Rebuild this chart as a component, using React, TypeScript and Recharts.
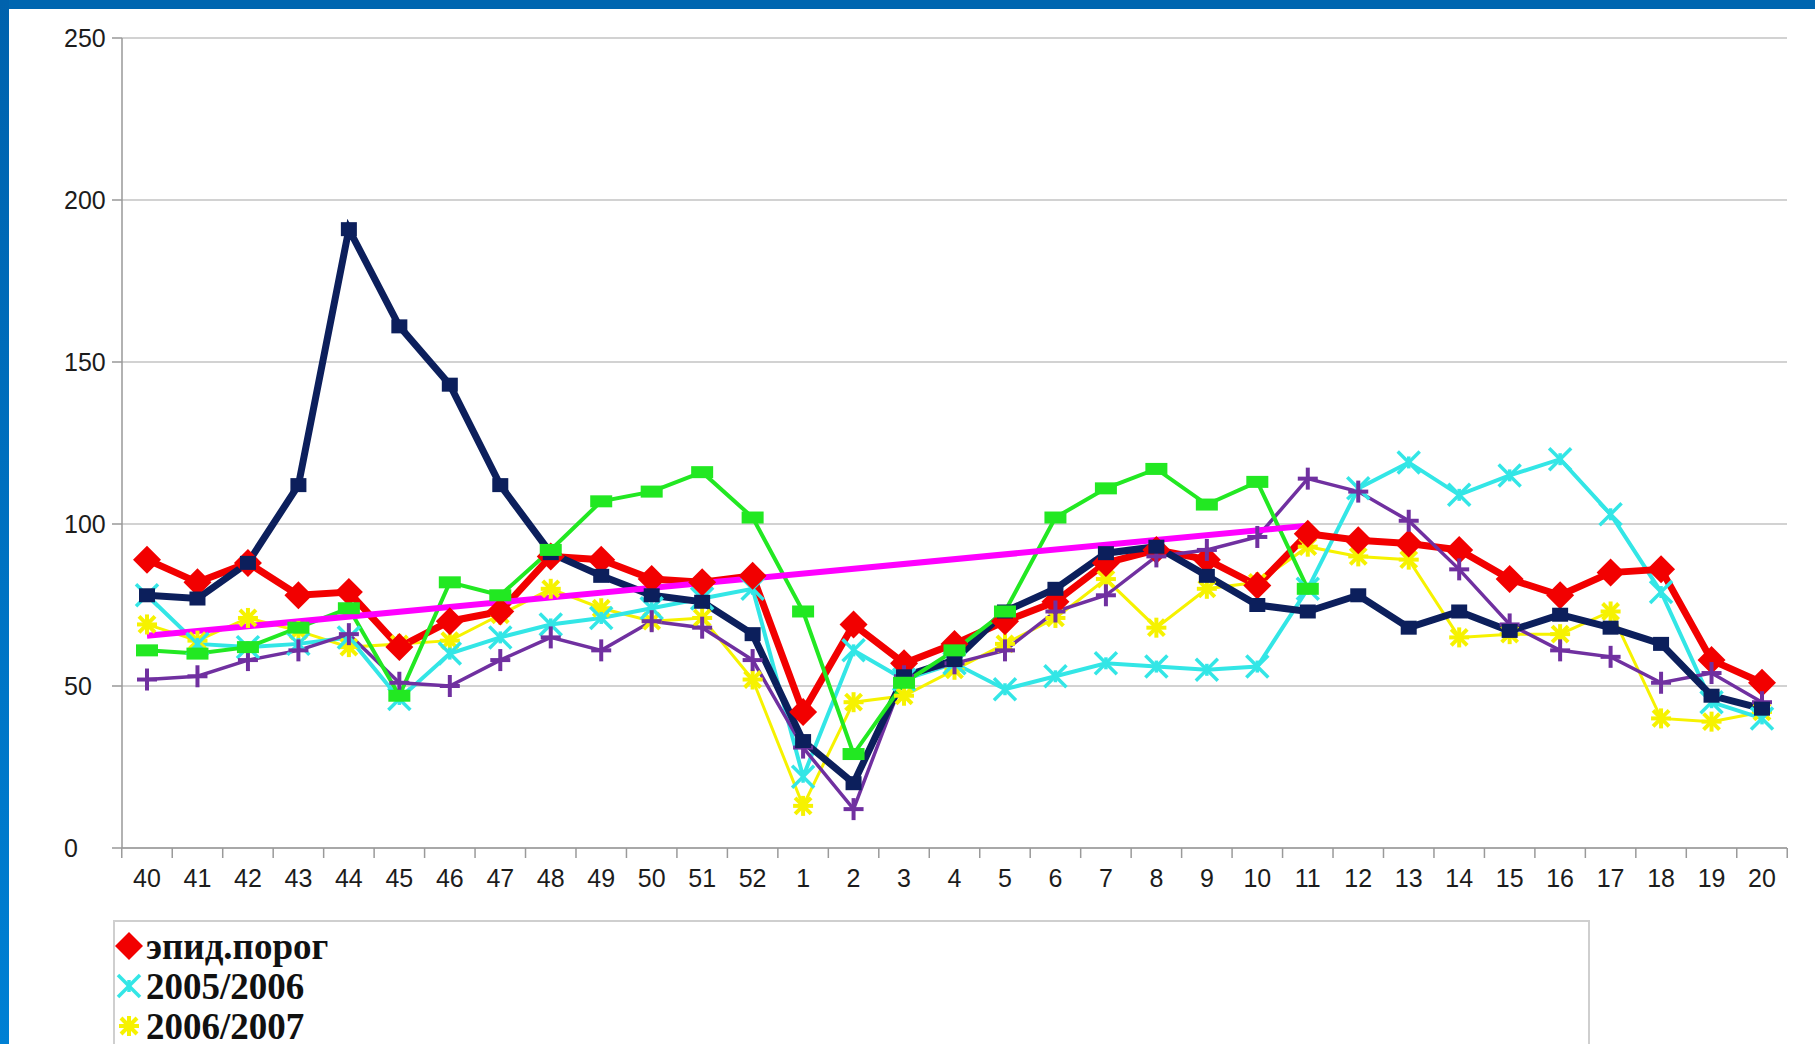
import React from 'react';
import { LineChart, Line, XAxis, YAxis, CartesianGrid } from 'recharts';

const weeks = ['40', '41', '42', '43', '44', '45', '46', '47', '48', '49', '50', '51', '52', '1', '2', '3', '4', '5', '6', '7', '8', '9', '10', '11', '12', '13', '14', '15', '16', '17', '18', '19', '20'];

const epidThreshold = [89, 82, 88, 78, 79, 62, 70, 73, 90, 89, 83, 82, 84, 42, 69, 57, 63, 70, 76, 88, 92, 89, 81, 97, 95, 94, 92, 83, 78, 85, 86, 58, 51];
const season0506 = [78, 63, 62, 63, 65, 46, 60, 65, 69, 71, 74, 77, 80, 22, 61, 52, 57, 49, 53, 57, 56, 55, 56, 80, 111, 119, 109, 115, 120, 103, 79, 45, 40];
const season0607 = [69, 64, 71, 67, 62, 63, 64, 72, 80, 74, 70, 71, 52, 13, 45, 47, 55, 63, 71, 83, 68, 80, 82, 93, 90, 89, 65, 66, 66, 73, 40, 39, 42];
const season0708 = [61, 60, 62, 68, 74, 47, 82, 78, 92, 107, 110, 116, 102, 73, 29, 51, 61, 73, 102, 111, 117, 106, 113, 80, null, null, null, null, null, null, null, null, null];
const season0809 = [52, 53, 58, 61, 66, 51, 50, 58, 65, 61, 70, 68, 58, 31, 12, 53, 57, 61, 73, 78, 90, 92, 96, 114, 110, 101, 86, 69, 61, 59, 51, 54, 45];
const season0910 = [78, 77, 88, 112, 191, 161, 143, 112, 91, 84, 78, 76, 66, 33, 20, 53, 58, 73, 80, 91, 93, 84, 75, 73, 78, 68, 73, 67, 72, 68, 63, 47, 43];
// straight trend line, only its two end points are known
const trendEnds: Record<string, number> = { '40': 65.5, '11': 99.5 };

const yTicks = [0, 50, 100, 150, 200, 250];

const data = weeks.map((w, i) => ({
  week: w,
  epid: epidThreshold[i],
  s0506: season0506[i],
  s0607: season0607[i],
  s0708: season0708[i],
  s0809: season0809[i],
  s0910: season0910[i],
  trend: trendEnds[w] ?? null,
}));

const RED = '#f20000';
const CYAN = '#33e6e6';
const YELLOW = '#f6f200';
const GREEN = '#22e822';
const PURPLE = '#7030a0';
const NAVY = '#0c1f5c';
const MAGENTA = '#ff00ff';

const MARGIN = { top: 38, right: 28, left: 42, bottom: 5 };
const Y_WIDTH = 80;
const CHART_W = 1815;
// half a category, used to put the small x ticks between the weeks
const HALF_STEP = (CHART_W - MARGIN.left - MARGIN.right - Y_WIDTH) / weeks.length / 2;

const shape = (kind: string, color: string, cx: number, cy: number, k: string) => {
  if (kind === 'diamond') {
    const r = 14;
    return <path key={k} d={`M${cx},${cy - r}L${cx + r},${cy}L${cx},${cy + r}L${cx - r},${cy}Z`} fill={color} />;
  }
  if (kind === 'square') {
    return <rect key={k} x={cx - 8} y={cy - 7} width={16} height={14} fill={color} />;
  }
  if (kind === 'bar') {
    return <rect key={k} x={cx - 11} y={cy - 6} width={22} height={12} fill={color} />;
  }
  if (kind === 'plus') {
    return (
      <g key={k} stroke={color} strokeWidth={4}>
        <line x1={cx - 10} y1={cy} x2={cx + 10} y2={cy} />
        <line x1={cx} y1={cy - 11} x2={cx} y2={cy + 11} />
      </g>
    );
  }
  if (kind === 'cross') {
    return (
      <g key={k} stroke={color} strokeWidth={3.5}>
        <line x1={cx - 11} y1={cy - 11} x2={cx + 11} y2={cy + 11} />
        <line x1={cx - 11} y1={cy + 11} x2={cx + 11} y2={cy - 11} />
        <line x1={cx} y1={cy - 6} x2={cx} y2={cy + 6} />
      </g>
    );
  }
  // star
  return (
    <g key={k} stroke={color} strokeWidth={4}>
      <line x1={cx - 10} y1={cy} x2={cx + 10} y2={cy} />
      <line x1={cx} y1={cy - 10} x2={cx} y2={cy + 10} />
      <line x1={cx - 8} y1={cy - 8} x2={cx + 8} y2={cy + 8} />
      <line x1={cx - 8} y1={cy + 8} x2={cx + 8} y2={cy - 8} />
    </g>
  );
};

const dotFor = (kind: string, color: string) => (p: any) => {
  const k = `${kind}-${p.index}`;
  if (p.cx == null || p.cy == null || p.value == null) return <g key={k} />;
  return shape(kind, color, p.cx, p.cy, k);
};

const YTick = (props: any) => {
  const { x, y, payload } = props;
  return (
    <text x={x - 44} y={y} dy={9} textAnchor="start" fill="#1c1c1c" fontSize={25} fontFamily="Liberation Sans, Arial, sans-serif">
      {payload.value}
    </text>
  );
};

// week label plus the little tick marks at the category borders
const XTick = (props: any) => {
  const { x, y, payload, index, visibleTicksCount } = props;
  const axisY = y - 21;
  const last = index === visibleTicksCount - 1;
  return (
    <g>
      <line x1={x - HALF_STEP} y1={axisY} x2={x - HALF_STEP} y2={axisY + 10} stroke="#9a9a9a" strokeWidth={1.5} />
      {last && <line x1={x + HALF_STEP} y1={axisY} x2={x + HALF_STEP} y2={axisY + 10} stroke="#9a9a9a" strokeWidth={1.5} />}
      <text x={x} y={y} dy={18} textAnchor="middle" fill="#1c1c1c" fontSize={25} fontFamily="Liberation Sans, Arial, sans-serif">
        {payload.value}
      </text>
    </g>
  );
};

const legendItems = [
  { name: 'эпид.порог', kind: 'diamond', color: RED },
  { name: '2005/2006', kind: 'cross', color: CYAN },
  { name: '2006/2007', kind: 'star', color: YELLOW },
];

const App: React.FC = () => {
  return (
    <div style={{ position: 'fixed', left: 0, top: 0, width: 1815, height: 1044, overflow: 'hidden', background: '#fff' }}>
      <div style={{ position: 'absolute', left: 0, top: 0 }}>
        <LineChart width={CHART_W} height={905} data={data} margin={MARGIN}>
          <CartesianGrid vertical={false} stroke="#d2d2d2" strokeWidth={2} />
          <XAxis
            dataKey="week"
            interval={0}
            padding={{ left: 25, right: 25 }}
            tickLine={false}
            axisLine={{ stroke: '#a8a8a8', strokeWidth: 2 }}
            tick={<XTick />}
            tickSize={10}
            tickMargin={11}
            height={52}
          />
          <YAxis
            domain={[0, 250]}
            ticks={yTicks}
            width={Y_WIDTH}
            tickSize={10}
            tickMargin={4}
            tick={<YTick />}
            axisLine={{ stroke: '#999', strokeWidth: 1.5 }}
            tickLine={{ stroke: '#999', strokeWidth: 1.5 }}
          />
          <Line dataKey="s0607" name="2006/2007" stroke={YELLOW} strokeWidth={3} dot={dotFor('star', YELLOW)} isAnimationActive={false} />
          <Line dataKey="s0506" name="2005/2006" stroke={CYAN} strokeWidth={4} dot={dotFor('cross', CYAN)} isAnimationActive={false} />
          <Line dataKey="epid" name="эпид.порог" stroke={RED} strokeWidth={7} dot={dotFor('diamond', RED)} isAnimationActive={false} />
          <Line dataKey="s0809" name="2008/2009" stroke={PURPLE} strokeWidth={3.5} dot={dotFor('plus', PURPLE)} isAnimationActive={false} />
          <Line dataKey="s0910" name="2009/2010" stroke={NAVY} strokeWidth={7} dot={dotFor('square', NAVY)} isAnimationActive={false} />
          <Line dataKey="s0708" name="2007/2008" stroke={GREEN} strokeWidth={4} dot={dotFor('bar', GREEN)} isAnimationActive={false} />
          <Line dataKey="trend" name="trend" stroke={MAGENTA} strokeWidth={6} dot={false} connectNulls isAnimationActive={false} />
        </LineChart>
      </div>

      <div
        style={{
          position: 'absolute',
          left: 113,
          top: 920,
          width: 1473,
          height: 200,
          border: '2px solid #cfcfcf',
          background: '#fff',
          fontFamily: 'Liberation Serif, "Times New Roman", serif',
          fontWeight: 'bold',
          fontSize: 37,
          color: '#111',
        }}
      >
        {legendItems.map((it, i) => (
          <div key={it.name} style={{ position: 'absolute', left: -3, top: 4 + i * 40, height: 40, display: 'flex', alignItems: 'center' }}>
            <svg width={34} height={34} style={{ marginRight: 0 }}>
              {shape(it.kind, it.color, 17, 17, 'l' + i)}
            </svg>
            <span>{it.name}</span>
          </div>
        ))}
      </div>

      <div style={{ position: 'absolute', left: 0, top: 0, width: 1815, height: 9, background: '#0066b0' }} />
      <div style={{ position: 'absolute', left: 0, top: 0, width: 9, height: 1044, background: 'linear-gradient(#0062ad, #0080d4)' }} />
    </div>
  );
};

export default App;
